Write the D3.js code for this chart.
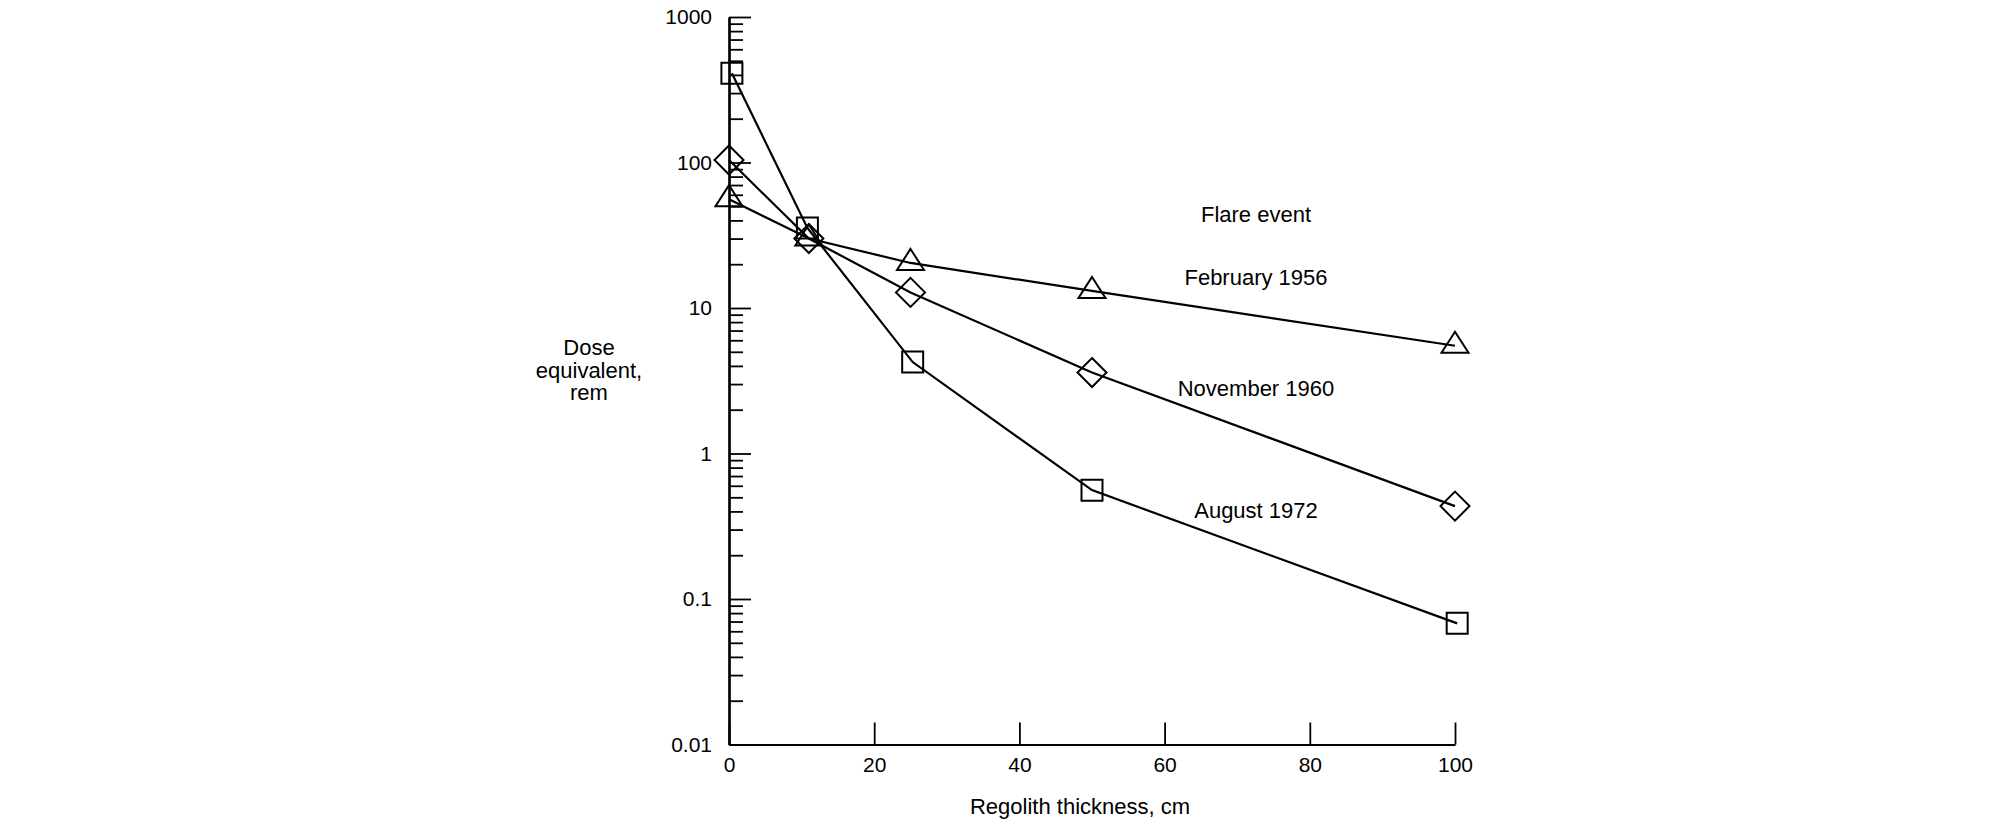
<!DOCTYPE html>
<html>
<head>
	<meta charset="utf-8" />
	<title>Dose equivalent vs regolith thickness</title>
	<script src="https://d3js.org/d3.v7.min.js"></script>
	<style>
		body { margin: 0; background: #fff; }
		text { font-family: "Liberation Sans", Arial, Helvetica, sans-serif; fill: #000; }
	</style>
</head>
<body>

<script>
// data
var thicknessFeb = [0, 11, 25, 50, 100];
var doseFeb1956  = [56, 30, 20.4, 13.1, 5.5];

var thicknessNov = [0, 11, 25, 50, 100];
var doseNov1960  = [104, 30, 12.8, 3.6, 0.435];

var thicknessAug = [0.4, 10.8, 25.3, 50, 100.3];
var doseAug1972  = [410, 35.5, 4.25, 0.56, 0.068];

var xTicks = [0, 20, 40, 60, 80, 100];
var yTicks = [0.01, 0.1, 1, 10, 100, 1000];
var seriesNames = ["February 1956", "November 1960", "August 1972"];

var width = 2008, height = 819;

var svg = d3.select("body").append("svg")
			.attr("width", width)
			.attr("height", height);

svg.append("rect").attr("width", width).attr("height", height).attr("fill", "#fff");

var x = d3.scaleLinear().domain([0, 100]).range([729, 1455]);
var y = d3.scaleLog().domain([0.01, 1000]).range([744.5, 17]);

// minor ticks 2..9 in every decade
var minor = [];
for (var k = -2; k < 3; k++) {
	for (var m = 2; m <= 9; m++) minor.push(m * Math.pow(10, k));
}

var yMinor = svg.append("g")
	.attr("transform", "translate(" + x(0) + ",0)")
	.call(d3.axisLeft(y).tickValues(minor).tickSizeInner(-14).tickSizeOuter(0).tickFormat(""));

var yAxis = svg.append("g")
	.attr("transform", "translate(" + x(0) + ",0)")
	.call(d3.axisLeft(y).tickValues(yTicks).tickSizeInner(-22).tickSizeOuter(0)
		.tickPadding(17).tickFormat(function(d){ return String(d); }));

var xAxis = svg.append("g")
	.attr("transform", "translate(0," + y(0.01) + ")")
	.call(d3.axisBottom(x).tickValues(xTicks).tickSizeInner(-22).tickSizeOuter(0)
		.tickPadding(13).tickFormat(function(d){ return String(d); }));

[yMinor, yAxis, xAxis].forEach(function(g){
	g.selectAll("path.domain").attr("stroke", "#000").attr("stroke-width", 2.2);
	g.selectAll(".tick line").attr("stroke", "#000").attr("stroke-width", 1.8);
	g.selectAll(".tick text").attr("font-size", 21).attr("fill", "#000")
		.style("font-family", "'Liberation Sans', Arial, Helvetica, sans-serif");
});

// marker shapes
function triangle(){ return "M0,-14L13.5,7L-13.5,7Z"; }
function diamond(){ return "M0,-14.5L14.5,0L0,14.5L-14.5,0Z"; }
function square(){ return "M-10.5,-10.5H10.5V10.5H-10.5Z"; }

var series = [
	{ xs: thicknessFeb, ys: doseFeb1956, shape: triangle },
	{ xs: thicknessNov, ys: doseNov1960, shape: diamond },
	{ xs: thicknessAug, ys: doseAug1972, shape: square }
];

var line = d3.line()
	.x(function(d){ return x(d[0]); })
	.y(function(d){ return y(d[1]); });

series.forEach(function(s){
	var pts = d3.zip(s.xs, s.ys);
	svg.append("path")
		.datum(pts)
		.attr("d", line)
		.attr("fill", "none")
		.attr("stroke", "#000")
		.attr("stroke-width", 2.2);

	svg.append("g").selectAll("path")
		.data(pts)
		.enter()
		.append("path")
		.attr("transform", function(d){ return "translate(" + x(d[0]) + "," + y(d[1]) + ")"; })
		.attr("d", s.shape)
		.attr("fill", "none")
		.attr("stroke", "#000")
		.attr("stroke-width", 2);
});

// labels
svg.append("text")
	.attr("x", 1256).attr("y", 222)
	.attr("text-anchor", "middle").attr("font-size", 22)
	.text("Flare event");

var labelY = [285, 396, 518];
svg.selectAll("text.series")
	.data(seriesNames)
	.enter()
	.append("text")
	.attr("class", "series")
	.attr("x", 1256)
	.attr("y", function(d, i){ return labelY[i]; })
	.attr("text-anchor", "middle")
	.attr("font-size", 22)
	.text(function(d){ return d; });

svg.append("text")
	.attr("x", x(50) - 12).attr("y", 814)
	.attr("text-anchor", "middle").attr("font-size", 22)
	.text("Regolith thickness, cm");

var yTitle = ["Dose", "equivalent,", "rem"];
svg.selectAll("text.ytitle")
	.data(yTitle)
	.enter()
	.append("text")
	.attr("class", "ytitle")
	.attr("x", 589)
	.attr("y", function(d, i){ return 355 + i * 22.5; })
	.attr("text-anchor", "middle")
	.attr("font-size", 22)
	.text(function(d){ return d; });
</script>
</body>
</html>
